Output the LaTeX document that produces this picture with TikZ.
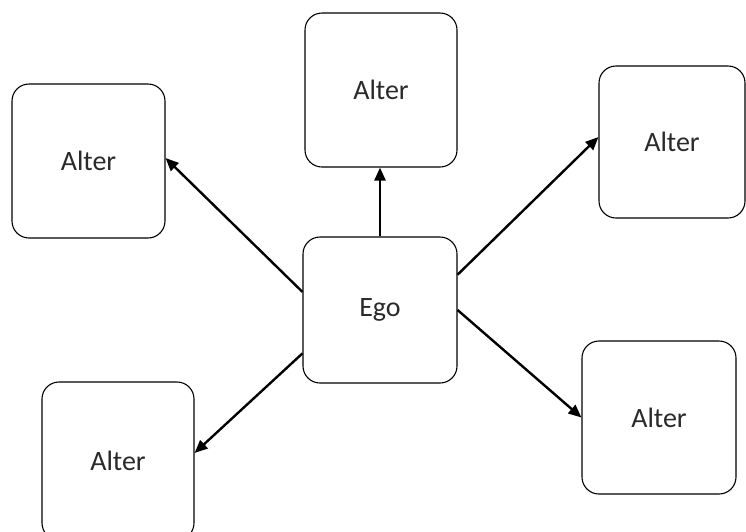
\documentclass[tikz,border=0pt]{standalone}
\usepackage{fontspec}
\setmainfont{Carlito}
\usetikzlibrary{arrows.meta,calc}
\definecolor{txt}{HTML}{2A2A2A}
\begin{document}
\begin{tikzpicture}[x=1pt,y=-1pt,
  box/.style={draw=black,line width=1.1pt,rounded corners=17pt,fill=white,
    minimum width=#1,inner sep=0pt,text=txt,font=\fontsize{28}{32}\selectfont},
  link/.style={line width=2.4pt,-{Triangle[length=13pt,width=11pt]}}]
\useasboundingbox (0,0) rectangle (746,531);
\fill[white] (0,0) rectangle (746,531);
\node[box=154pt,minimum height=146pt] (ego) at (380,310) {Ego};
\node[box=152pt,minimum height=154pt] (top) at (381,90) {Alter};
\node[box=153pt,minimum height=154pt] (left) at (88.5,161) {Alter};
\node[box=146pt,minimum height=152pt] (rt) at (672,142) {Alter};
\node[box=154pt,minimum height=153pt] (br) at (659,417.5) {Alter};
\node[box=152pt,minimum height=158pt] (bl) at (118,461) {Alter};
\coordinate (e1) at ($(ego.north west)!0.377!(ego.south west)$);
\coordinate (e2) at ($(ego.north west)!0.795!(ego.south west)$);
\coordinate (e3) at ($(ego.north east)!0.26!(ego.south east)$);
\coordinate (tl) at ($(left.east)+(0,-3)$);
\coordinate (tbl) at ($(bl.east)+(0,-8)$);
\coordinate (trt) at ($(rt.west)+(0,-5)$);
\draw[link] (ego.north) -- (ego.north |- top.south);
\draw[link] (e1) -- (tl);
\draw[link] (e2) -- (tbl);
\draw[link] (e3) -- (trt);
\draw[link] (ego.east) -- (br.west);
\end{tikzpicture}
\end{document}
